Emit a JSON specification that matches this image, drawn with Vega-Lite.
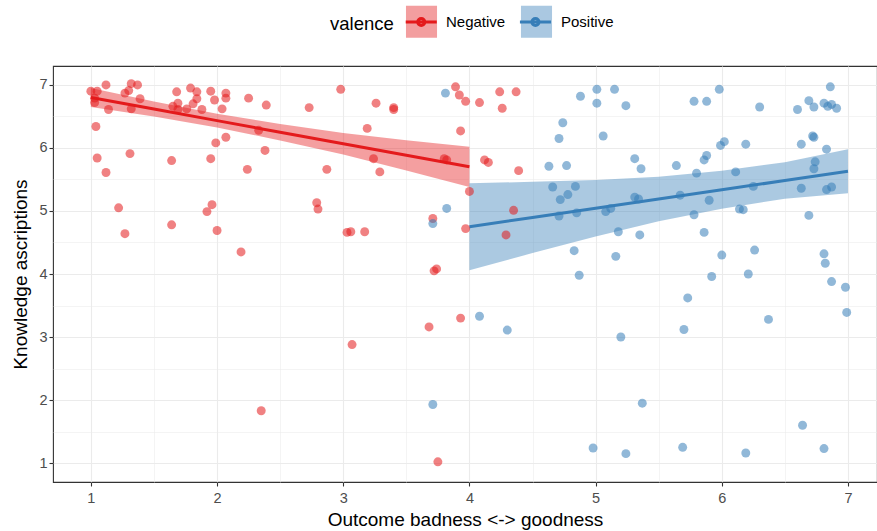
{
  "$schema": "https://vega.github.io/schema/vega-lite/v6.json",
  "width": 824,
  "height": 416,
  "autosize": {"type": "none"},
  "padding": {"left": 53, "top": 66, "right": 0, "bottom": 49},
  "background": "white",
  "config": {
    "font": "Liberation Sans",
    "view": {"stroke": "#333333", "strokeWidth": 1.1},
    "axis": {
      "domain": false,
      "gridColor": "#EBEBEB",
      "gridWidth": {"condition": {"test": "datum.value % 1 === 0", "value": 1.1}, "value": 0.55},
      "tickColor": {"condition": {"test": "datum.value % 1 === 0", "value": "#333333"}, "value": "rgba(0,0,0,0)"},
      "tickSize": 4,
      "tickWidth": 1.1,
      "labelColor": "#4D4D4D",
      "labelFontSize": 14.5,
      "labelPadding": 5,
      "labelExpr": "datum.value % 1 === 0 ? '' + datum.value : ''",
      "titleFontSize": 19,
      "titleFontWeight": "normal",
      "titleColor": "#000000"
    }
  },
  "datasets": {
    "fit": [
      {"valence": "Negative", "x": 1.0, "fit": 6.80, "lo": 6.65, "hi": 6.95},
      {"valence": "Negative", "x": 1.5, "fit": 6.617, "lo": 6.497, "hi": 6.737},
      {"valence": "Negative", "x": 2.0, "fit": 6.433, "lo": 6.323, "hi": 6.543},
      {"valence": "Negative", "x": 2.5, "fit": 6.25, "lo": 6.12, "hi": 6.38},
      {"valence": "Negative", "x": 3.0, "fit": 6.067, "lo": 5.897, "hi": 6.237},
      {"valence": "Negative", "x": 3.5, "fit": 5.883, "lo": 5.643, "hi": 6.123},
      {"valence": "Negative", "x": 4.0, "fit": 5.70, "lo": 5.38, "hi": 6.02},
      {"valence": "Positive", "x": 4.0, "fit": 4.75, "lo": 4.06, "hi": 5.44},
      {"valence": "Positive", "x": 4.5, "fit": 4.897, "lo": 4.332, "hi": 5.462},
      {"valence": "Positive", "x": 5.0, "fit": 5.043, "lo": 4.593, "hi": 5.493},
      {"valence": "Positive", "x": 5.5, "fit": 5.19, "lo": 4.838, "hi": 5.542},
      {"valence": "Positive", "x": 6.0, "fit": 5.337, "lo": 5.037, "hi": 5.637},
      {"valence": "Positive", "x": 6.5, "fit": 5.483, "lo": 5.193, "hi": 5.773},
      {"valence": "Positive", "x": 7.0, "fit": 5.63, "lo": 5.28, "hi": 5.98}
    ],
    "pts": [
      {"valence": "Negative", "x": 1.00, "y": 6.90}, {"valence": "Negative", "x": 1.05, "y": 6.90},
      {"valence": "Negative", "x": 1.12, "y": 7.00}, {"valence": "Negative", "x": 1.03, "y": 6.79},
      {"valence": "Negative", "x": 1.03, "y": 6.72}, {"valence": "Negative", "x": 1.14, "y": 6.61},
      {"valence": "Negative", "x": 1.04, "y": 6.34}, {"valence": "Negative", "x": 1.05, "y": 5.84},
      {"valence": "Negative", "x": 1.12, "y": 5.61}, {"valence": "Negative", "x": 1.22, "y": 5.05},
      {"valence": "Negative", "x": 1.27, "y": 4.64}, {"valence": "Negative", "x": 1.31, "y": 5.91},
      {"valence": "Negative", "x": 1.32, "y": 7.02}, {"valence": "Negative", "x": 1.37, "y": 7.00},
      {"valence": "Negative", "x": 1.27, "y": 6.87}, {"valence": "Negative", "x": 1.32, "y": 6.62},
      {"valence": "Negative", "x": 1.39, "y": 6.78}, {"valence": "Negative", "x": 1.30, "y": 6.91},
      {"valence": "Negative", "x": 1.64, "y": 5.80}, {"valence": "Negative", "x": 1.64, "y": 4.78},
      {"valence": "Negative", "x": 1.68, "y": 6.89}, {"valence": "Negative", "x": 1.65, "y": 6.66},
      {"valence": "Negative", "x": 1.69, "y": 6.71}, {"valence": "Negative", "x": 1.69, "y": 6.61},
      {"valence": "Negative", "x": 1.76, "y": 6.62}, {"valence": "Negative", "x": 1.79, "y": 6.95},
      {"valence": "Negative", "x": 1.84, "y": 6.89}, {"valence": "Negative", "x": 1.84, "y": 6.78},
      {"valence": "Negative", "x": 1.81, "y": 6.70}, {"valence": "Negative", "x": 1.88, "y": 6.61},
      {"valence": "Negative", "x": 1.95, "y": 6.90}, {"valence": "Negative", "x": 1.98, "y": 6.76},
      {"valence": "Negative", "x": 2.04, "y": 6.62}, {"valence": "Negative", "x": 2.07, "y": 6.87},
      {"valence": "Negative", "x": 2.07, "y": 6.79}, {"valence": "Negative", "x": 2.07, "y": 6.17},
      {"valence": "Negative", "x": 1.99, "y": 6.08}, {"valence": "Negative", "x": 1.95, "y": 5.83},
      {"valence": "Negative", "x": 1.96, "y": 5.10}, {"valence": "Negative", "x": 1.92, "y": 4.99},
      {"valence": "Negative", "x": 2.00, "y": 4.69}, {"valence": "Negative", "x": 2.19, "y": 4.35},
      {"valence": "Negative", "x": 2.24, "y": 5.66}, {"valence": "Negative", "x": 2.25, "y": 6.79},
      {"valence": "Negative", "x": 2.33, "y": 6.28}, {"valence": "Negative", "x": 2.38, "y": 5.96},
      {"valence": "Negative", "x": 2.39, "y": 6.68}, {"valence": "Negative", "x": 2.35, "y": 1.83},
      {"valence": "Negative", "x": 2.73, "y": 6.64}, {"valence": "Negative", "x": 2.79, "y": 5.13},
      {"valence": "Negative", "x": 2.80, "y": 5.03}, {"valence": "Negative", "x": 2.87, "y": 5.66},
      {"valence": "Negative", "x": 2.98, "y": 6.93}, {"valence": "Negative", "x": 3.26, "y": 6.71},
      {"valence": "Negative", "x": 3.40, "y": 6.64}, {"valence": "Negative", "x": 3.40, "y": 6.61},
      {"valence": "Negative", "x": 3.19, "y": 6.31}, {"valence": "Negative", "x": 3.24, "y": 5.83},
      {"valence": "Negative", "x": 3.29, "y": 5.62}, {"valence": "Negative", "x": 3.03, "y": 4.66},
      {"valence": "Negative", "x": 3.06, "y": 4.67}, {"valence": "Negative", "x": 3.17, "y": 4.67},
      {"valence": "Negative", "x": 3.07, "y": 2.88}, {"valence": "Negative", "x": 3.80, "y": 5.83},
      {"valence": "Negative", "x": 3.82, "y": 5.81}, {"valence": "Negative", "x": 3.89, "y": 6.97},
      {"valence": "Negative", "x": 3.92, "y": 6.84}, {"valence": "Negative", "x": 3.97, "y": 6.74},
      {"valence": "Negative", "x": 3.93, "y": 6.27}, {"valence": "Negative", "x": 4.08, "y": 6.72},
      {"valence": "Negative", "x": 4.24, "y": 6.89}, {"valence": "Negative", "x": 4.26, "y": 6.63},
      {"valence": "Negative", "x": 4.37, "y": 6.89}, {"valence": "Negative", "x": 4.00, "y": 5.31},
      {"valence": "Negative", "x": 4.12, "y": 5.81}, {"valence": "Negative", "x": 4.15, "y": 5.77},
      {"valence": "Negative", "x": 4.39, "y": 5.64}, {"valence": "Negative", "x": 4.35, "y": 5.01},
      {"valence": "Negative", "x": 3.71, "y": 4.88}, {"valence": "Negative", "x": 3.97, "y": 4.72},
      {"valence": "Negative", "x": 4.29, "y": 4.62}, {"valence": "Negative", "x": 3.72, "y": 4.05},
      {"valence": "Negative", "x": 3.74, "y": 4.08}, {"valence": "Negative", "x": 3.93, "y": 3.30},
      {"valence": "Negative", "x": 3.68, "y": 3.16}, {"valence": "Negative", "x": 3.75, "y": 1.02},
      {"valence": "Positive", "x": 3.81, "y": 6.87}, {"valence": "Positive", "x": 3.82, "y": 5.04},
      {"valence": "Positive", "x": 3.71, "y": 4.80}, {"valence": "Positive", "x": 4.08, "y": 3.33},
      {"valence": "Positive", "x": 4.30, "y": 3.11}, {"valence": "Positive", "x": 3.71, "y": 1.93},
      {"valence": "Positive", "x": 4.63, "y": 5.71}, {"valence": "Positive", "x": 4.77, "y": 5.72},
      {"valence": "Positive", "x": 4.74, "y": 6.40}, {"valence": "Positive", "x": 4.71, "y": 6.15},
      {"valence": "Positive", "x": 4.66, "y": 5.38}, {"valence": "Positive", "x": 4.84, "y": 5.39},
      {"valence": "Positive", "x": 4.72, "y": 5.18}, {"valence": "Positive", "x": 4.78, "y": 5.26},
      {"valence": "Positive", "x": 4.71, "y": 4.92}, {"valence": "Positive", "x": 4.83, "y": 4.37},
      {"valence": "Positive", "x": 4.88, "y": 6.82}, {"valence": "Positive", "x": 4.85, "y": 4.97},
      {"valence": "Positive", "x": 4.87, "y": 3.98}, {"valence": "Positive", "x": 5.01, "y": 6.93},
      {"valence": "Positive", "x": 5.01, "y": 6.71}, {"valence": "Positive", "x": 5.15, "y": 6.93},
      {"valence": "Positive", "x": 5.24, "y": 6.67}, {"valence": "Positive", "x": 5.06, "y": 6.19},
      {"valence": "Positive", "x": 5.31, "y": 5.83}, {"valence": "Positive", "x": 5.36, "y": 5.67},
      {"valence": "Positive", "x": 5.31, "y": 5.22}, {"valence": "Positive", "x": 5.34, "y": 5.19},
      {"valence": "Positive", "x": 5.08, "y": 4.99}, {"valence": "Positive", "x": 5.12, "y": 5.04},
      {"valence": "Positive", "x": 5.18, "y": 4.67}, {"valence": "Positive", "x": 5.35, "y": 4.62},
      {"valence": "Positive", "x": 5.16, "y": 4.28}, {"valence": "Positive", "x": 5.64, "y": 5.72},
      {"valence": "Positive", "x": 5.67, "y": 5.25}, {"valence": "Positive", "x": 5.80, "y": 5.60},
      {"valence": "Positive", "x": 5.78, "y": 6.74}, {"valence": "Positive", "x": 5.88, "y": 6.74},
      {"valence": "Positive", "x": 5.98, "y": 6.93}, {"valence": "Positive", "x": 5.86, "y": 5.81},
      {"valence": "Positive", "x": 5.88, "y": 5.88}, {"valence": "Positive", "x": 5.78, "y": 4.94},
      {"valence": "Positive", "x": 5.90, "y": 5.17}, {"valence": "Positive", "x": 5.86, "y": 4.66},
      {"valence": "Positive", "x": 5.99, "y": 6.04}, {"valence": "Positive", "x": 6.02, "y": 6.10},
      {"valence": "Positive", "x": 6.00, "y": 4.30}, {"valence": "Positive", "x": 6.11, "y": 5.62},
      {"valence": "Positive", "x": 6.19, "y": 6.06}, {"valence": "Positive", "x": 6.30, "y": 6.65},
      {"valence": "Positive", "x": 6.14, "y": 5.03}, {"valence": "Positive", "x": 6.17, "y": 5.02},
      {"valence": "Positive", "x": 6.25, "y": 5.39}, {"valence": "Positive", "x": 6.26, "y": 4.38},
      {"valence": "Positive", "x": 6.60, "y": 6.61}, {"valence": "Positive", "x": 6.69, "y": 6.75},
      {"valence": "Positive", "x": 6.73, "y": 6.65}, {"valence": "Positive", "x": 6.81, "y": 6.71},
      {"valence": "Positive", "x": 6.84, "y": 6.66}, {"valence": "Positive", "x": 6.87, "y": 6.69},
      {"valence": "Positive", "x": 6.91, "y": 6.63}, {"valence": "Positive", "x": 6.86, "y": 6.97},
      {"valence": "Positive", "x": 6.63, "y": 6.06}, {"valence": "Positive", "x": 6.72, "y": 6.19},
      {"valence": "Positive", "x": 6.73, "y": 6.17}, {"valence": "Positive", "x": 6.83, "y": 5.98},
      {"valence": "Positive", "x": 6.74, "y": 5.78}, {"valence": "Positive", "x": 6.73, "y": 5.67},
      {"valence": "Positive", "x": 6.63, "y": 5.36}, {"valence": "Positive", "x": 6.83, "y": 5.34},
      {"valence": "Positive", "x": 6.87, "y": 5.38}, {"valence": "Positive", "x": 6.69, "y": 4.93},
      {"valence": "Positive", "x": 6.81, "y": 4.32}, {"valence": "Positive", "x": 6.82, "y": 4.17},
      {"valence": "Positive", "x": 5.92, "y": 3.96}, {"valence": "Positive", "x": 6.21, "y": 4.00},
      {"valence": "Positive", "x": 6.87, "y": 3.88}, {"valence": "Positive", "x": 6.98, "y": 3.79},
      {"valence": "Positive", "x": 6.99, "y": 3.39}, {"valence": "Positive", "x": 5.73, "y": 3.62},
      {"valence": "Positive", "x": 5.70, "y": 3.12}, {"valence": "Positive", "x": 6.37, "y": 3.28},
      {"valence": "Positive", "x": 5.20, "y": 3.00}, {"valence": "Positive", "x": 5.37, "y": 1.95},
      {"valence": "Positive", "x": 6.64, "y": 1.60}, {"valence": "Positive", "x": 4.98, "y": 1.24},
      {"valence": "Positive", "x": 5.24, "y": 1.15}, {"valence": "Positive", "x": 5.69, "y": 1.25},
      {"valence": "Positive", "x": 6.19, "y": 1.16}, {"valence": "Positive", "x": 6.81, "y": 1.23}
    ]
  },
  "encoding": {
    "x": {
      "field": "x",
      "type": "quantitative",
      "scale": {"domain": [0.7, 7.23], "nice": false, "zero": false},
      "axis": {
        "title": "Outcome badness <-> goodness",
        "values": [1, 1.5, 2, 2.5, 3, 3.5, 4, 4.5, 5, 5.5, 6, 6.5, 7],
        "titlePadding": 6,
        "labelFlush": false
      }
    }
  },
  "layer": [
    {
      "data": {"name": "fit"},
      "mark": {"type": "area", "opacity": 0.42},
      "encoding": {
        "y": {
          "field": "lo",
          "type": "quantitative",
          "scale": {"domain": [0.7, 7.3], "nice": false, "zero": false},
          "axis": {
            "title": "Knowledge ascriptions",
            "values": [1, 1.5, 2, 2.5, 3, 3.5, 4, 4.5, 5, 5.5, 6, 6.5, 7],
            "labelPadding": 2,
            "titlePadding": 8
          }
        },
        "y2": {"field": "hi"},
        "fill": {
          "field": "valence",
          "type": "nominal",
          "scale": {"range": ["#E41A1C", "#377EB8"]},
          "legend": {
            "orient": "none",
            "legendX": 277,
            "legendY": -62,
            "direction": "horizontal",
            "title": "valence",
            "titleOrient": "left",
            "titleAnchor": "middle",
            "titleBaseline": "middle",
            "titleFontSize": 18.5,
            "titleFontWeight": "normal",
            "titleColor": "#000000",
            "titlePadding": 10,
            "labelFontSize": 15,
            "labelColor": "#000000",
            "labelOffset": 7,
            "columnPadding": 8,
            "symbolType": "M-0.97,-1H0.97V1H-0.97Z",
            "symbolSize": 1024,
            "symbolOpacity": 0.42,
            "symbolStrokeWidth": 3,
            "symbolStrokeColor": "rgba(0,0,0,0)"
          }
        }
      }
    },
    {
      "data": {"name": "fit"},
      "mark": {"type": "line", "strokeWidth": 3},
      "encoding": {
        "y": {
          "field": "fit",
          "type": "quantitative",
          "axis": {
            "title": "Knowledge ascriptions",
            "values": [1, 1.5, 2, 2.5, 3, 3.5, 4, 4.5, 5, 5.5, 6, 6.5, 7],
            "labelPadding": 2,
            "titlePadding": 8
          }
        },
        "stroke": {
          "field": "valence",
          "type": "nominal",
          "scale": {"domain": ["Negative", "Positive"], "range": ["#E41A1C", "#377EB8"]},
          "legend": {
            "orient": "none",
            "legendX": 350.75,
            "legendY": -62,
            "direction": "horizontal",
            "title": null,
            "labelFontSize": 15,
            "labelExpr": "''",
            "labelOffset": 7,
            "columnPadding": 67.2,
            "symbolType": "M-0.97,0H0.97M-0.22,0A0.22,0.22 0 1,1 0.22,0A0.22,0.22 0 1,1 -0.22,0",
            "symbolSize": 1024,
            "symbolStrokeWidth": 3
          }
        }
      }
    },
    {
      "data": {"name": "pts"},
      "mark": {"type": "circle", "size": 80, "opacity": 0.55},
      "encoding": {
        "y": {
          "field": "y",
          "type": "quantitative",
          "axis": {
            "title": "Knowledge ascriptions",
            "values": [1, 1.5, 2, 2.5, 3, 3.5, 4, 4.5, 5, 5.5, 6, 6.5, 7],
            "labelPadding": 2,
            "titlePadding": 8
          }
        },
        "fill": {"field": "valence", "type": "nominal", "legend": null}
      }
    }
  ]
}
